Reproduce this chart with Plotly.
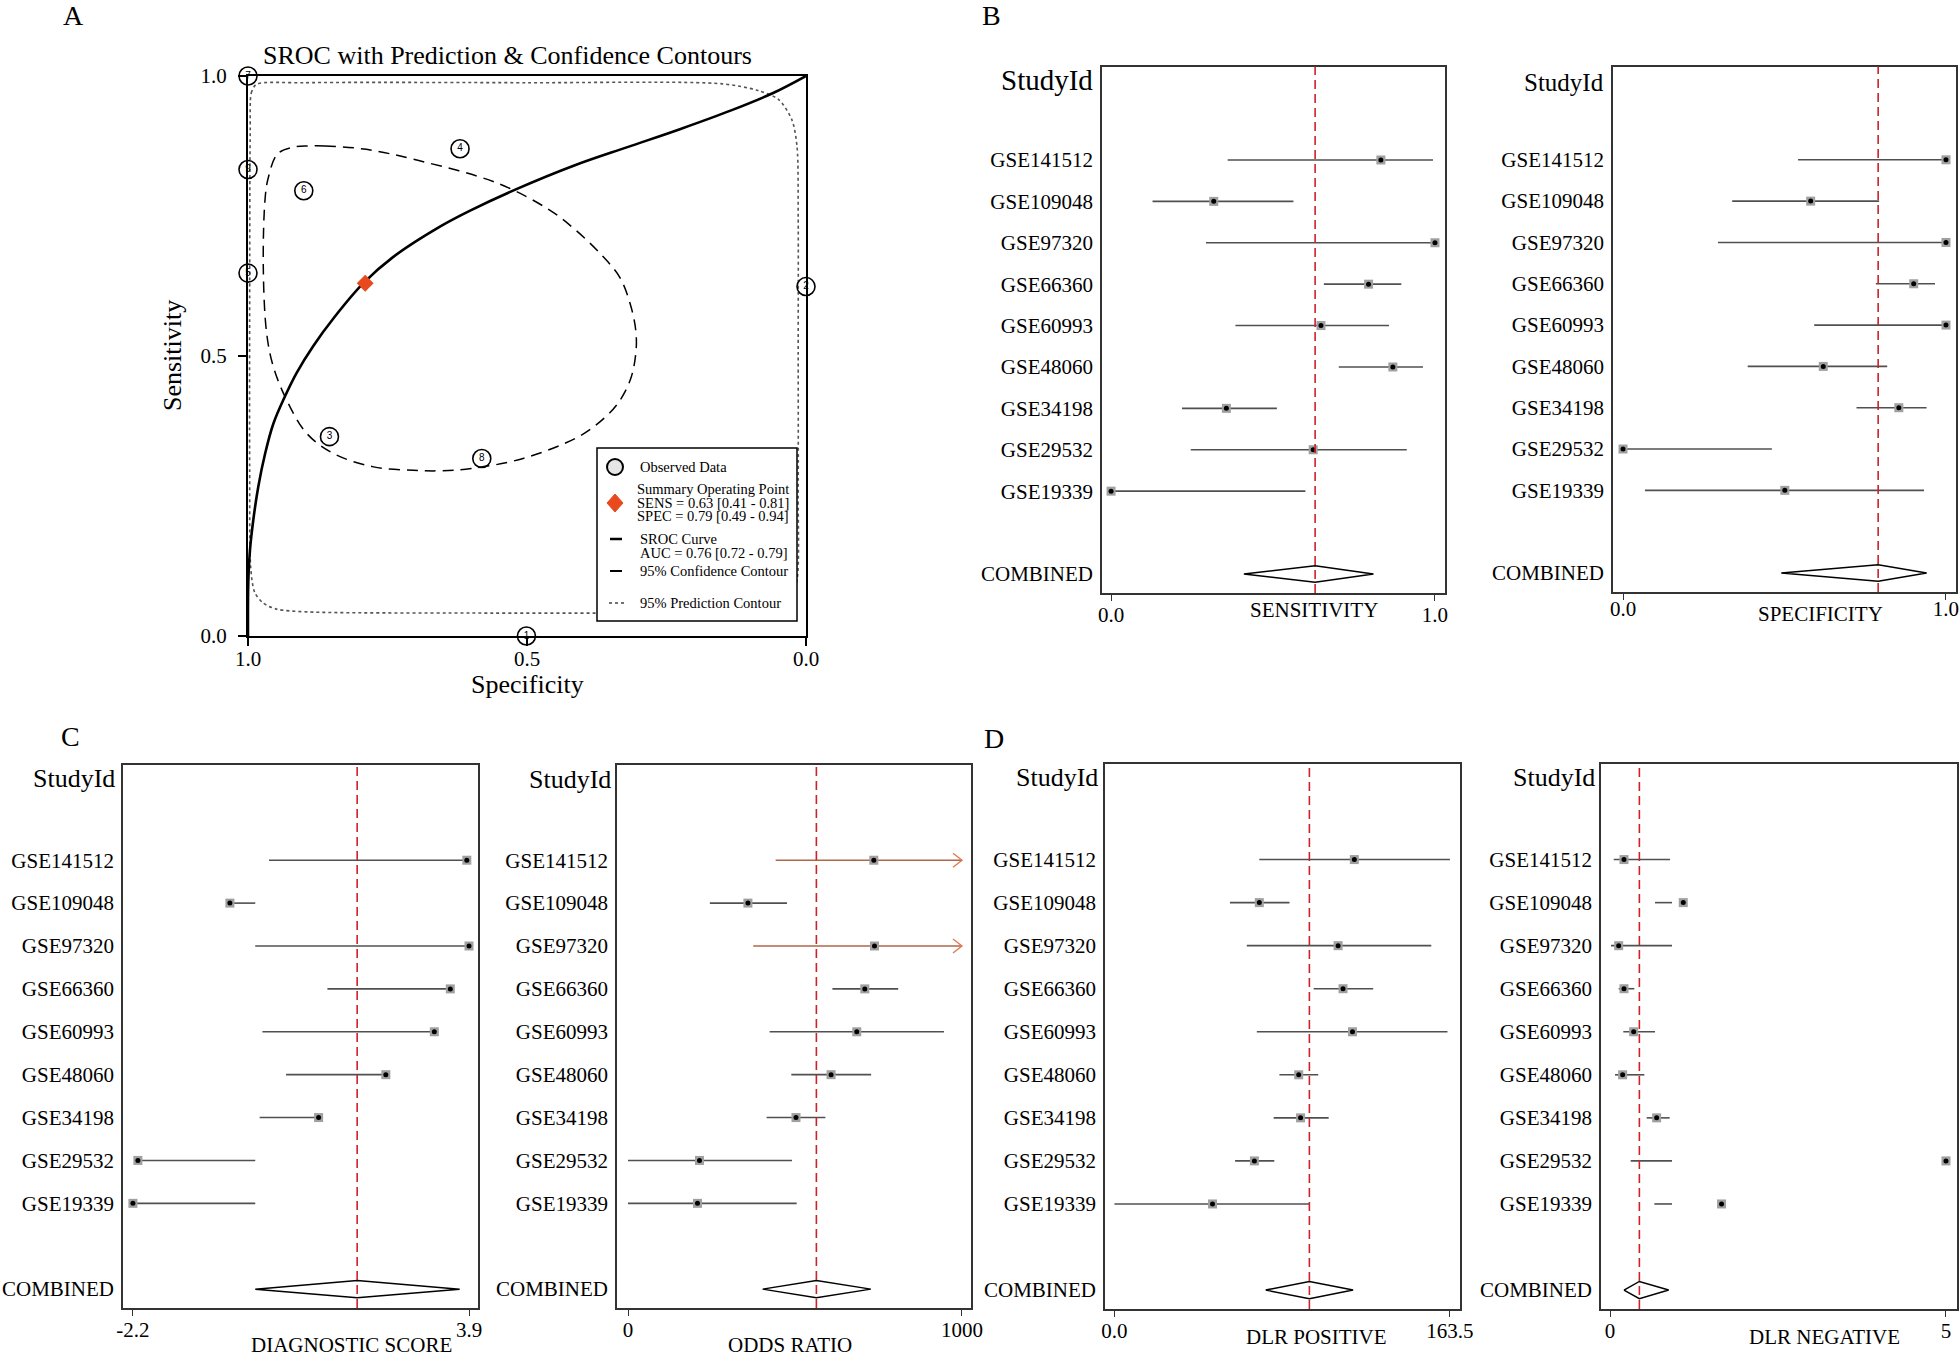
import plotly.graph_objects as go

W, H = 1960, 1359
FONT = "Liberation Serif"

# ---------------- data ----------------
studies = ["GSE141512", "GSE109048", "GSE97320", "GSE66360", "GSE60993",
           "GSE48060", "GSE34198", "GSE29532", "GSE19339"]
sroc_id = ["9", "8", "7", "6", "5", "4", "3", "2", "1"]

sens_pt = [0.833, 0.317, 1.000, 0.795, 0.648, 0.870, 0.356, 0.624, 0.000]
sens_lo = [0.360, 0.128, 0.293, 0.657, 0.384, 0.703, 0.219, 0.246, 0.000]
sens_hi = [0.994, 0.563, 1.000, 0.896, 0.858, 0.963, 0.512, 0.913, 0.600]
sens_pool = [0.63, 0.41, 0.81]

spec_pt = [1.000, 0.581, 1.000, 0.900, 1.000, 0.620, 0.854, 0.000, 0.501]
spec_lo = [0.542, 0.338, 0.294, 0.783, 0.592, 0.386, 0.723, 0.000, 0.068]
spec_hi = [1.000, 0.793, 1.000, 0.966, 1.000, 0.818, 0.940, 0.461, 0.932]
spec_pool = [0.79, 0.49, 0.94]

ds_pt = [3.86, -0.44, 3.90, 3.56, 3.27, 2.39, 1.17, -2.11, -2.20]
ds_lo = [0.27, -0.44, 0.02, 1.33, 0.15, 0.58, 0.10, -2.11, -2.20]
ds_hi = [3.86, 0.02, 3.90, 3.56, 3.27, 2.39, 1.17, 0.02, 0.02]
ds_pool = [1.87, 0.02, 3.73]

or_pt = [736, 359, 738, 709, 685, 608, 503, 214, 208]
or_lo = [442, 245, 375, 612, 424, 489, 415, 0, 0]
or_hi = [1000, 476, 1000, 809, 946, 728, 591, 491, 505]
or_arrow = [True, False, True, False, False, False, False, False, False]
or_pool = [564, 403, 727]

dlrp_pt = [116.9, 70.6, 109.0, 111.4, 116.0, 89.8, 90.7, 68.2, 47.8]
dlrp_lo = [70.6, 56.3, 64.5, 97.1, 69.4, 80.4, 77.6, 58.8, 0.0]
dlrp_hi = [163.5, 85.3, 154.4, 126.1, 162.3, 99.3, 104.4, 77.9, 95.3]
dlrp_pool = [95.0, 73.7, 116.3]

dlrn_pt = [0.208, 1.09, 0.129, 0.208, 0.352, 0.188, 0.694, 5.0, 1.66]
dlrn_lo = [0.055, 0.67, 0.015, 0.129, 0.198, 0.074, 0.546, 0.308, 0.66]
dlrn_hi = [0.893, 0.923, 0.923, 0.362, 0.670, 0.511, 0.888, 0.923, 0.923]
dlrn_pool = [0.437, 0.208, 0.873]

# SROC curve, confidence and prediction contours (spec, sens)
sroc_spec = [1.0, 0.9995, 0.9964, 0.9904, 0.9815, 0.9695, 0.9546, 0.9337, 0.9128, 0.883,
             0.847, 0.7933, 0.7396, 0.656, 0.601, 0.521, 0.413, 0.320, 0.226, 0.133,
             0.058, 0.0]
sroc_sens = [0.0, 0.094, 0.154, 0.208, 0.267, 0.325, 0.379, 0.428, 0.470, 0.518,
             0.567, 0.630, 0.677, 0.731, 0.760, 0.797, 0.841, 0.873, 0.905, 0.939,
             0.970, 1.0]

conf_spec = [0.891, 0.862, 0.788, 0.694, 0.554, 0.460, 0.413, 0.367, 0.334, 0.315, 0.305,
             0.305, 0.315, 0.339, 0.376, 0.413, 0.507, 0.600, 0.656, 0.704, 0.775, 0.847,
             0.895, 0.9306, 0.9546, 0.9665, 0.9726, 0.9695, 0.964, 0.947, 0.919, 0.891]
conf_sens = [0.875, 0.875, 0.869, 0.849, 0.809, 0.761, 0.725, 0.681, 0.641, 0.593, 0.545,
             0.505, 0.457, 0.413, 0.377, 0.353, 0.317, 0.299, 0.295, 0.296, 0.302, 0.326,
             0.362, 0.421, 0.481, 0.540, 0.659, 0.779, 0.817, 0.861, 0.873, 0.875]

pred_spec = [0.996, 0.994, 0.985, 0.9, 0.5, 0.15, 0.086, 0.049, 0.025, 0.016, 0.014, 0.014,
             0.014, 0.016, 0.03, 0.1, 0.3, 0.6, 0.893, 0.949, 0.973, 0.988, 0.995, 0.997,
             0.997, 0.996]
pred_sens = [0.90, 0.97, 0.985, 0.988, 0.988, 0.986, 0.974, 0.958, 0.921, 0.873, 0.75, 0.5,
             0.25, 0.10, 0.055, 0.042, 0.041, 0.041, 0.043, 0.048, 0.059, 0.078, 0.12, 0.3,
             0.6, 0.90]

# ---------------- helpers ----------------
def fx(p):
    return p / W


def fy(p):
    return 1 - p / H


fig = go.Figure()
annotations = []
shapes = []


def ann(text, x, y, size, xanchor="center", yanchor="middle", textangle=0, color="black"):
    annotations.append(dict(text=text, x=fx(x), y=fy(y), xref="paper", yref="paper",
                            xanchor=xanchor, yanchor=yanchor, showarrow=False,
                            textangle=textangle,
                            font=dict(family=FONT, size=size, color=color)))


# ---------------- panel A : SROC ----------------
ax = dict(domain=[fx(248), fx(806)], range=[1, 0], tickvals=[1, 0.5, 0],
          ticktext=["1.0", "0.5", "0.0"], ticks="outside", ticklen=8, tickwidth=1.5,
          tickcolor="black", showline=True, mirror=True, linecolor="black", linewidth=2,
          showgrid=False, zeroline=False, anchor="y", ticklabelstandoff=-5, automargin=False,
          tickfont=dict(family=FONT, size=21, color="black"))
ay = dict(domain=[fy(636), fy(76)], range=[0, 1], tickvals=[0, 0.5, 1],
          ticktext=["0.0", "0.5", "1.0"], ticks="outside", ticklen=8, tickwidth=1.5,
          tickcolor="black", showline=True, mirror=True, linecolor="black", linewidth=2,
          showgrid=False, zeroline=False, anchor="x", ticklabelstandoff=7, automargin=False,
          tickfont=dict(family=FONT, size=21, color="black"))

fig.add_trace(go.Scatter(x=pred_spec, y=pred_sens, mode="lines", xaxis="x", yaxis="y",
                         line=dict(color="#555555", width=1.6, dash="dot", shape="spline",
                                   smoothing=0.8), hoverinfo="skip", showlegend=False))
fig.add_trace(go.Scatter(x=conf_spec, y=conf_sens, mode="lines", xaxis="x", yaxis="y",
                         line=dict(color="black", width=1.5, dash="11px,7px", shape="spline",
                                   smoothing=1.0), hoverinfo="skip", showlegend=False))
fig.add_trace(go.Scatter(x=sroc_spec, y=sroc_sens, mode="lines", xaxis="x", yaxis="y",
                         line=dict(color="black", width=2.6, shape="spline", smoothing=1.0),
                         hoverinfo="skip", showlegend=False))
fig.add_trace(go.Scatter(x=spec_pt, y=sens_pt, mode="markers+text", text=sroc_id,
                         textposition="middle center", xaxis="x", yaxis="y",
                         textfont=dict(family="Liberation Sans", size=10, color="black"),
                         marker=dict(symbol="circle-open", size=18, color="black",
                                     line=dict(width=1.6, color="black")),
                         cliponaxis=False, showlegend=False))
fig.add_trace(go.Scatter(x=[spec_pool[0]], y=[sens_pool[0]], mode="markers", xaxis="x", yaxis="y",
                         marker=dict(symbol="diamond", size=13, color="#E8491D"),
                         cliponaxis=False, showlegend=False))

# custom legend box
shapes.append(dict(type="rect", xref="paper", yref="paper", x0=fx(597), x1=fx(797),
                   y0=fy(621), y1=fy(448), fillcolor="white",
                   line=dict(color="black", width=1.5), layer="above"))
shapes.append(dict(type="circle", xref="paper", yref="paper", xsizemode="pixel",
                   ysizemode="pixel", xanchor=fx(615), yanchor=fy(467), x0=-8, x1=8,
                   y0=-8, y1=8, fillcolor="#E6E6E6", line=dict(color="black", width=2),
                   layer="above"))
shapes.append(dict(type="path", xref="paper", yref="paper", xsizemode="pixel",
                   ysizemode="pixel", xanchor=fx(615), yanchor=fy(503),
                   path="M -8,0 L 0,9 L 8,0 L 0,-9 Z", fillcolor="#E8491D",
                   line=dict(color="#E8491D", width=1), layer="above"))
shapes.append(dict(type="line", xref="paper", yref="paper", x0=fx(610), x1=fx(622),
                   y0=fy(539), y1=fy(539), line=dict(color="black", width=2.5), layer="above"))
shapes.append(dict(type="line", xref="paper", yref="paper", x0=fx(610), x1=fx(622),
                   y0=fy(571), y1=fy(571), line=dict(color="black", width=2), layer="above"))
shapes.append(dict(type="line", xref="paper", yref="paper", x0=fx(609), x1=fx(624),
                   y0=fy(603), y1=fy(603), line=dict(color="#444444", width=1.5, dash="dot"),
                   layer="above"))
LG = 14.5
ann("Observed Data", 638, 467, LG, xanchor="left")
ann("Summary Operating Point", 635, 489, LG, xanchor="left")
ann("SENS = 0.63 [0.41 - 0.81]", 635, 503, LG, xanchor="left")
ann("SPEC = 0.79 [0.49 - 0.94]", 635, 516, LG, xanchor="left")
ann("SROC Curve", 638, 539, LG, xanchor="left")
ann("AUC = 0.76 [0.72 - 0.79]", 638, 553, LG, xanchor="left")
ann("95% Confidence Contour", 638, 571, LG, xanchor="left")
ann("95% Prediction Contour", 638, 603, LG, xanchor="left")

ann("SROC with Prediction &amp; Confidence Contours", 507, 56, 26)
ann("Sensitivity", 172, 356, 26, textangle=-90)
ann("Specificity", 527, 685, 26)

# panel letters
ann("A", 73, 16, 28)
ann("B", 992, 15, 28)
ann("C", 70, 736, 28)
ann("D", 994, 738, 28)

layout_axes = {"xaxis": ax, "yaxis": ay}

# ---------------- forest panels ----------------
rows = list(range(len(studies)))
COMB = 10


def forest(n, xpx, ypx, rng, yr, tickvals, ticktext, pt, lo, hi, pool,
           title, title_xy, sid_xy, sid_size, arrow=None, standoff=-4):
    xa, ya = "x%d" % n, "y%d" % n
    layout_axes["xaxis%d" % n] = dict(
        domain=[fx(xpx[0]), fx(xpx[1])], range=rng, tickvals=tickvals, ticktext=ticktext,
        ticks="outside", ticklen=6, tickwidth=1, tickcolor="#333333",
        showline=True, mirror=True, linecolor="#333333", linewidth=1.6,
        showgrid=False, zeroline=False, anchor=ya, ticklabelstandoff=standoff,
        automargin=False, tickfont=dict(family=FONT, size=21, color="black"))
    layout_axes["yaxis%d" % n] = dict(
        domain=[fy(ypx[1]), fy(ypx[0])], range=yr, tickvals=rows + [COMB],
        ticktext=studies + ["COMBINED"], ticks="", showline=True, mirror=True,
        linecolor="#333333", linewidth=1.6, showgrid=False, zeroline=False, anchor=xa,
        ticklabelstandoff=3, automargin=False,
        tickfont=dict(family=FONT, size=21, color="black"))
    # red pooled line
    shapes.append(dict(type="line", xref=xa, yref=ya + " domain", x0=pool[0], x1=pool[0],
                       y0=0, y1=1, line=dict(color="#CC2229", width=1.6, dash="9px,5px")))
    # CI lines
    if arrow is None:
        arrow = [False] * len(pt)
    lx, ly, ox, oy = [], [], [], []
    for i in rows:
        if arrow[i]:
            ox += [lo[i], hi[i], None]
            oy += [i, i, None]
        else:
            lx += [lo[i], hi[i], None]
            ly += [i, i, None]
    fig.add_trace(go.Scatter(x=lx, y=ly, mode="lines", xaxis=xa, yaxis=ya,
                             line=dict(color="#505050", width=1.6), hoverinfo="skip",
                             showlegend=False))
    if ox:
        fig.add_trace(go.Scatter(x=ox, y=oy, mode="lines", xaxis=xa, yaxis=ya,
                                 line=dict(color="#B0664A", width=1.6), hoverinfo="skip",
                                 showlegend=False))
        for i in rows:
            if arrow[i]:
                shapes.append(dict(type="path", xref=xa, yref=ya, xsizemode="pixel",
                                   ysizemode="pixel", xanchor=hi[i], yanchor=i,
                                   path="M -9,7 L 0,0 L -9,-7",
                                   line=dict(color="#E07A50", width=1.4)))
    fig.add_trace(go.Scatter(x=pt, y=rows, mode="markers", xaxis=xa, yaxis=ya,
                             marker=dict(symbol="square", size=9, color="#A0A0A0"),
                             cliponaxis=False, hoverinfo="skip", showlegend=False))
    fig.add_trace(go.Scatter(x=pt, y=rows, mode="markers", xaxis=xa, yaxis=ya,
                             marker=dict(symbol="circle", size=5, color="black"),
                             cliponaxis=False, hoverinfo="skip", showlegend=False))
    # pooled diamond
    fig.add_trace(go.Scatter(x=[pool[1], pool[0], pool[2], pool[0], pool[1]],
                             y=[COMB, COMB - 0.2, COMB, COMB + 0.2, COMB],
                             mode="lines", xaxis=xa, yaxis=ya,
                             line=dict(color="black", width=1.5), hoverinfo="skip",
                             showlegend=False))
    ann(title, title_xy[0], title_xy[1], 21)
    ann("StudyId", sid_xy[0], sid_xy[1], sid_size, xanchor="right")


YB = [10.46, -2.258]
YC = [10.44, -2.22]
forest(2, (1102, 1445), (66.5, 593), [-0.028, 1.031], YB, [0, 1], ["0.0", "1.0"],
       sens_pt, sens_lo, sens_hi, sens_pool, "SENSITIVITY", (1314, 610), (1095, 80), 29)
forest(3, (1613, 1956), (66.5, 592), [-0.031, 1.031], YB, [0, 1], ["0.0", "1.0"],
       spec_pt, spec_lo, spec_hi, spec_pool, "SPECIFICITY", (1820, 614), (1606, 82), 25,
       standoff=-9)
forest(4, (123, 478), (765, 1308), [-2.38, 4.063], YC, [-2.2, 3.9], ["-2.2", "3.9"],
       ds_pt, ds_lo, ds_hi, ds_pool, "DIAGNOSTIC SCORE", (351, 1345), (117, 778), 26)
forest(5, (617, 971), (765, 1308), [-33, 1027], YC, [0, 1000], ["0", "1000"],
       or_pt, or_lo, or_hi, or_pool, "ODDS RATIO", (790, 1345), (613, 779), 26, arrow=or_arrow)
forest(6, (1105, 1460), (764, 1309), [-4.6, 168.4], YC, [0, 163.5], ["0.0", "163.5"],
       dlrp_pt, dlrp_lo, dlrp_hi, dlrp_pool, "DLR POSITIVE", (1316, 1337), (1100, 777), 26)
forest(7, (1601, 1957), (764, 1309), [-0.134, 5.164], YC, [0, 5], ["0", "5"],
       dlrn_pt, dlrn_lo, dlrn_hi, dlrn_pool, "DLR NEGATIVE", (1824, 1337), (1597, 777), 26)

fig.update_layout(width=W, height=H, margin=dict(l=0, r=0, t=0, b=0, pad=0),
                  autosize=False,
                  paper_bgcolor="white", plot_bgcolor="white",
                  font=dict(family=FONT, color="black"),
                  annotations=annotations, shapes=shapes, showlegend=False,
                  **layout_axes)

fig.write_html("out.html", config={"displayModeBar": False},
               post_script="document.body.style.margin='0px';"
                           "document.body.style.overflow='hidden';")
